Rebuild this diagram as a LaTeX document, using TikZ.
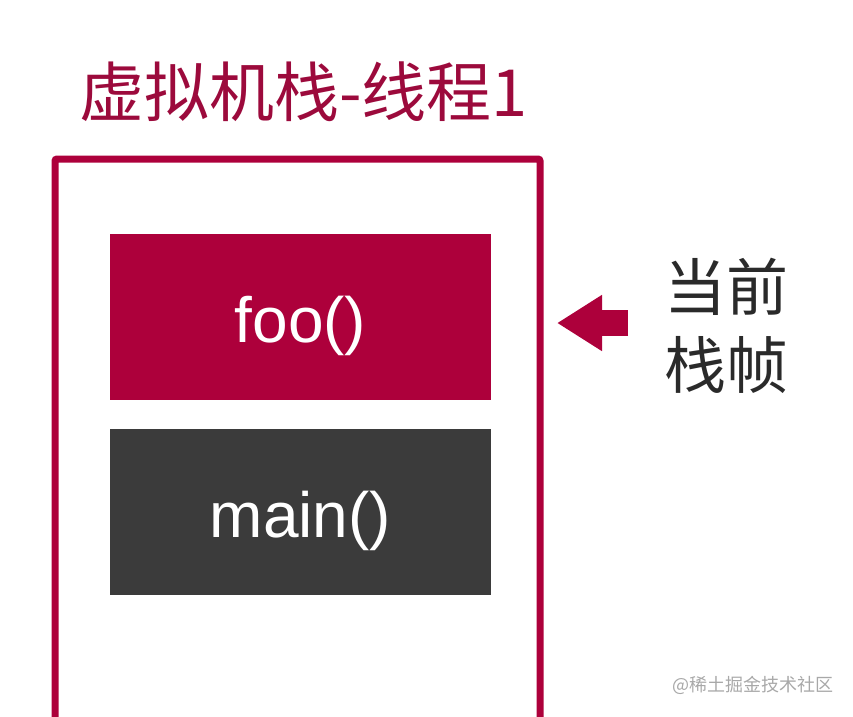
\documentclass[tikz,border=0pt]{standalone}
\usepackage{fontspec}
\setmainfont{Liberation Sans}
\newfontfamily\cjk{Noto Sans CJK SC}
\usetikzlibrary{positioning,arrows.meta}
\definecolor{stackred}{HTML}{AD003B}
\definecolor{titlered}{HTML}{9C0A3C}
\definecolor{boxgray}{HTML}{3B3B3B}
\definecolor{labelgray}{HTML}{2A2A2A}
\definecolor{markgray}{HTML}{A8A8A8}
\begin{document}
\begin{tikzpicture}[
        x = 1pt, y = -1pt, % one unit per pixel of the reference
        frame/.style = {draw=stackred, line width=7pt, rounded corners=2pt,
            minimum width=485pt, minimum height=620pt},
        framebox/.style = {minimum width=381pt, minimum height=166pt, inner sep=0pt,
            text height=60pt, text depth=9pt, % sit the text a little low
            text=white, font=\fontsize{64}{72}\selectfont},
        bigarrow/.style = {stackred, line width=26pt, -{Triangle[length=45pt, width=53pt]}},
    ]
    \useasboundingbox (0,0) rectangle (853,716);
    \node[inner sep=0pt, text=titlered, font=\fontsize{65}{76}\selectfont\cjk] (title) at (303.5,92) {虚拟机栈-线程1};
    \node[frame] (stack) at (297.5,469) {};
    \node[framebox, fill=stackred] (foo) at (300.5,317) {foo()};
    \node[framebox, fill=boxgray, below=29pt of foo] (main) {main()};
    % label on the right
    \node[inner sep=0pt, align=left, text=labelgray, font=\fontsize{62}{78}\selectfont\cjk] (cur) at (726.5,325.5) {当前\\栈帧};
    \coordinate (tail) at (628,323);
    \coordinate (tip) at ([xshift=13.5pt]stack.east);
    \draw[bigarrow] (tail) -- (tip |- tail);
    \node[inner sep=0pt, text=markgray, font=\fontsize{18}{20}\selectfont\cjk] (mark) at (753,685) {@稀土掘金技术社区};
\end{tikzpicture}
\end{document}
